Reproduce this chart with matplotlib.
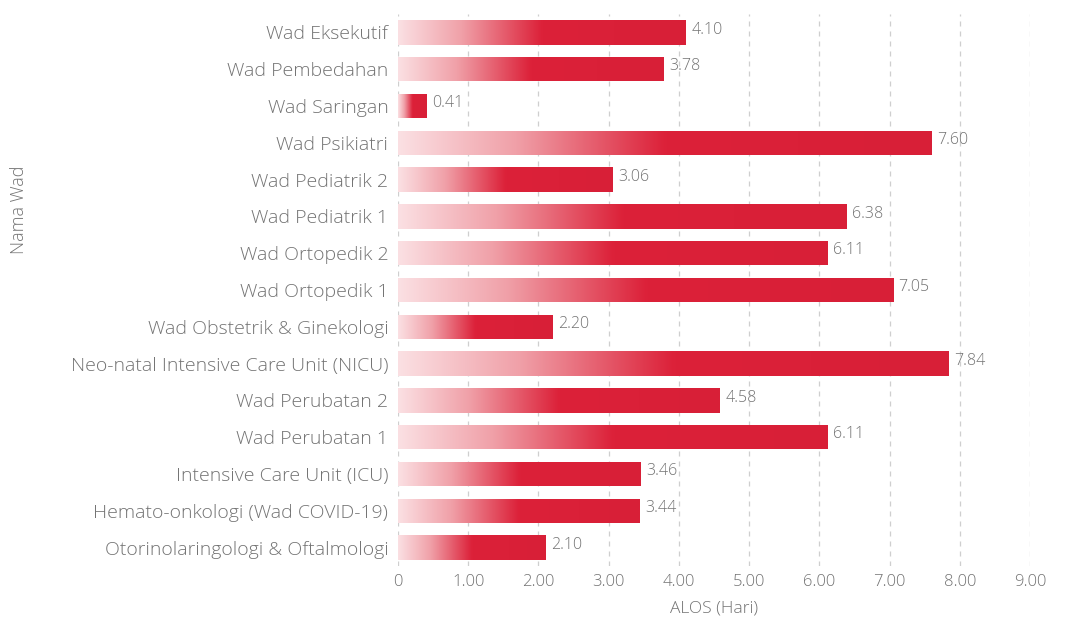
import numpy as np
import matplotlib.pyplot as plt
from matplotlib.colors import LinearSegmentedColormap

plt.rcParams['font.family'] = ['Open Sans', 'DejaVu Sans']
plt.rcParams['font.weight'] = 300
plt.rcParams['axes.labelweight'] = 300

wards = [
    'Wad Eksekutif',
    'Wad Pembedahan',
    'Wad Saringan',
    'Wad Psikiatri',
    'Wad Pediatrik 2',
    'Wad Pediatrik 1',
    'Wad Ortopedik 2',
    'Wad Ortopedik 1',
    'Wad Obstetrik & Ginekologi',
    'Neo-natal Intensive Care Unit (NICU)',
    'Wad Perubatan 2',
    'Wad Perubatan 1',
    'Intensive Care Unit (ICU)',
    'Hemato-onkologi (Wad COVID-19)',
    'Otorinolaringologi & Oftalmologi',
]
alos = [4.10, 3.78, 0.41, 7.60, 3.06, 6.38, 6.11, 7.05, 2.20, 7.84, 4.58, 6.11, 3.46, 3.44, 2.10]
xticks = [0, 1, 2, 3, 4, 5, 6, 7, 8, 9]
xtick_labels = ['0', '1.00', '2.00', '3.00', '4.00', '5.00', '6.00', '7.00', '8.00', '9.00']

text_col = '#737373'
red = LinearSegmentedColormap.from_list(
    'bar_red', [(0.0, '#fbe0e3'), (0.22, '#f0a0a8'), (0.5, '#dc2139'), (1.0, '#d81f37')])

fig = plt.figure(figsize=(10.7, 6.2), dpi=100)
ax = fig.add_axes([398 / 1070, 1 - 566 / 620, (1030 - 398) / 1070, (566 - 14) / 620])

y = np.arange(len(wards))
bars = ax.barh(y, alos, height=0.66, color='none', edgecolor='none', zorder=3)

# left-to-right fade inside every bar
grad = np.linspace(0, 1, 256).reshape(1, -1)
for bar, v in zip(bars, alos):
    x0, y0 = bar.get_x(), bar.get_y()
    w, h = bar.get_width(), bar.get_height()
    im = ax.imshow(grad, cmap=red, aspect='auto', extent=[x0, x0 + w, y0 + h, y0],
                   interpolation='bicubic', zorder=3)
    im.set_clip_path(bar)
    ax.annotate(f'{v:.2f}', xy=(x0 + w, y0 + h / 2), xytext=(4, 2),
                textcoords='offset points', va='center', ha='left',
                fontsize=11.5, color=text_col)

ax.set_xlim(0, 9)
ax.set_ylim(len(wards) - 0.5, -0.5)
ax.set_yticks(y)
ax.set_yticklabels(wards, fontsize=14, color=text_col)
ax.set_xticks(xticks)
ax.set_xticklabels(xtick_labels, fontsize=12, color=text_col)
ax.tick_params(length=0, pad=6)
ax.tick_params(axis='y', pad=7)

ax.grid(axis='x', color='#cfcfcf', linestyle=(0, (4, 4)), linewidth=0.9, zorder=0)
for s in ax.spines.values():
    s.set_visible(False)

ax.set_xlabel('ALOS (Hari)', fontsize=12.5, color=text_col, labelpad=7)
ax.set_ylabel('Nama Wad', fontsize=13, color=text_col)
ax.yaxis.set_label_coords(-0.585, 0.645)

fig.savefig('out.png', dpi=100)
